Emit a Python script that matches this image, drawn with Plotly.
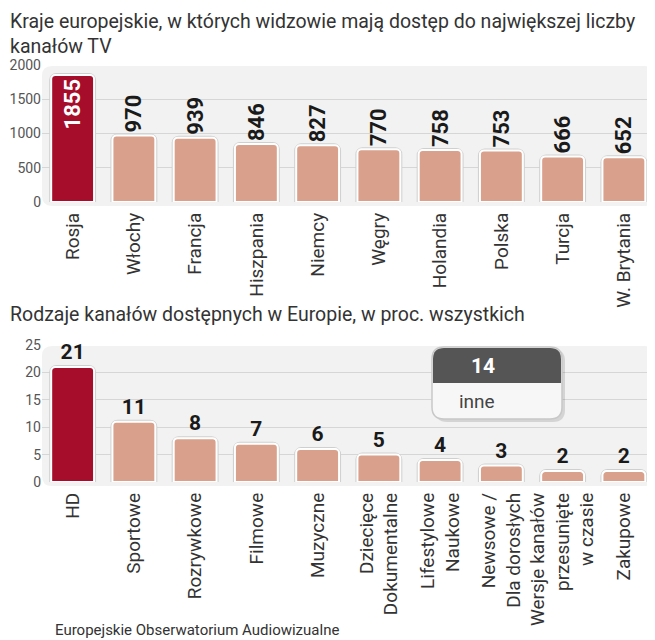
import plotly.graph_objects as go

# dane
kraje = ["Rosja", "Włochy", "Francja", "Hiszpania", "Niemcy", "Węgry",
         "Holandia", "Polska", "Turcja", "W. Brytania"]
liczba_kanalow = [1855, 970, 939, 846, 827, 770, 758, 753, 666, 652]

rodzaje = ["HD", "Sportowe", "Rozrywkowe", "Filmowe", "Muzyczne",
           "Dziecięce<br>Dokumentalne", "Lifestylowe<br>Naukowe",
           "Newsowe /<br>Dla dorosłych",
           "Wersje kanałów<br>przesunięte<br>w czasie", "Zakupowe"]
udzial_proc = [21, 11, 8, 7, 6, 5, 4, 3, 2, 2]
inne_proc = 14

tytul_1 = "Kraje europejskie, w których widzowie mają dostęp do największej liczby<br>kanałów TV"
tytul_2 = "Rodzaje kanałów dostępnych w Europie, w proc. wszystkich"
zrodlo = "Europejskie Obserwatorium Audiowizualne"

# strona ma 8 px marginesu body, więc wykres jest o tyle mniejszy i przesunięty
OFF = 8
W, H = 655 - OFF, 640 - OFF
DARK_RED = "#a50d2b"
SALMON = "#d9a08b"
FONT = "Roboto, Liberation Sans, sans-serif"
NUM_FONT = "Roboto, Liberation Sans, sans-serif"


def fx(x):
    return (x - OFF) / W


def fy(y):
    return 1 - (y - OFF) / H


def px(x, y):
    return "%.5f,%.5f" % (fx(x), fy(y))


def rounded(x0, y0, x1, y1, rt, rb):
    return ("M %s L %s Q %s %s L %s Q %s %s L %s Q %s %s L %s Q %s %s Z" % (
        px(x0 + rt, y0), px(x1 - rt, y0), px(x1, y0), px(x1, y0 + rt),
        px(x1, y1 - rb), px(x1, y1), px(x1 - rb, y1), px(x0 + rb, y1),
        px(x0, y1), px(x0, y1 - rb), px(x0, y0 + rt), px(x0, y0), px(x0 + rt, y0)))


def main():
    colors1 = [DARK_RED] + [SALMON] * (len(kraje) - 1)
    colors2 = [DARK_RED] + [SALMON] * (len(rodzaje) - 1)

    # szara obwódka pod białą ramką słupków
    rim1 = go.Bar(x=kraje, y=liczba_kanalow, xaxis="x", yaxis="y",
                  marker=dict(color="#cfcfcf", line=dict(color="#cfcfcf", width=4),
                              cornerradius=5), hoverinfo="skip")
    rim2 = go.Bar(x=rodzaje, y=udzial_proc, xaxis="x2", yaxis="y2",
                  marker=dict(color="#cfcfcf", line=dict(color="#cfcfcf", width=4),
                              cornerradius=5), hoverinfo="skip")

    trace1 = go.Bar(
        x=kraje, y=liczba_kanalow, xaxis="x", yaxis="y",
        marker=dict(color=colors1, line=dict(color="white", width=2), cornerradius=4),
        text=[str(v) for v in liczba_kanalow],
        textposition=["inside"] + ["outside"] * (len(kraje) - 1),
        insidetextanchor="end",
        textangle=-90,
        textfont=dict(family=NUM_FONT, size=22, weight="bold",
                      color=["white"] + ["#1a1a1a"] * (len(kraje) - 1)),
        constraintext="none", cliponaxis=False, hoverinfo="skip",
    )
    trace2 = go.Bar(
        x=rodzaje, y=udzial_proc, xaxis="x2", yaxis="y2",
        marker=dict(color=colors2, line=dict(color="white", width=2), cornerradius=4),
        text=[str(v) for v in udzial_proc],
        textposition="outside",
        textangle=0,
        textfont=dict(family=NUM_FONT, size=21, weight="bold", color="#1a1a1a"),
        constraintext="none", cliponaxis=False, hoverinfo="skip",
    )

    xdom = [fx(42), fx(654.5)]
    axis_x = dict(domain=xdom, tickangle=-90, showgrid=False, showline=False,
                  zeroline=False, ticks="", ticklabelstandoff=6, automargin=False,
                  tickfont=dict(family=FONT, size=19, color="#333"))
    axis_y = dict(showline=False, zeroline=False, ticks="", gridcolor="#d6d6d6",
                  gridwidth=1, automargin=False,
                  tickfont=dict(family=FONT, size=14, color="#555"))

    shapes = [
        dict(type="path", xref="paper", yref="paper", layer="below",
             path=rounded(42, 66, 654, 206, 10, 10),
             fillcolor="#f2f2f2", line=dict(width=0)),
        dict(type="path", xref="paper", yref="paper", layer="below",
             path=rounded(42, 346, 654, 486, 10, 10),
             fillcolor="#f2f2f2", line=dict(width=0)),
        # ramka "inne"
        dict(type="path", xref="paper", yref="paper", layer="above",
             path=rounded(435, 349, 565, 422, 12, 12),
             fillcolor="rgba(0,0,0,0.12)", line=dict(width=0)),
        dict(type="path", xref="paper", yref="paper", layer="above",
             path=rounded(432, 347, 562, 419, 12, 12),
             fillcolor="#f7f7f7", line=dict(color="#c8c8c8", width=1.5)),
        dict(type="path", xref="paper", yref="paper", layer="above",
             path=rounded(433, 348, 561, 383, 11, 0),
             fillcolor="#555555", line=dict(width=0)),
    ]

    annotations = [
        dict(text=tytul_1, x=0, y=1, xref="paper", yref="paper",
             xanchor="left", yanchor="top", align="left", showarrow=False,
             font=dict(family=FONT, size=19.5, color="#333")),
        dict(text=tytul_2, x=0, y=fy(301), xref="paper", yref="paper",
             xanchor="left", yanchor="top", align="left", showarrow=False,
             font=dict(family=FONT, size=19.5, color="#333")),
        dict(text=str(inne_proc), x=fx(497), y=fy(366), xref="paper", yref="paper",
             showarrow=False, font=dict(family=NUM_FONT, size=21, color="white", weight="bold")),
        dict(text="inne", x=fx(497), y=fy(401), xref="paper", yref="paper",
             showarrow=False, font=dict(family=FONT, size=19, color="#444")),
        dict(text=zrodlo, x=fx(53), y=fy(630), xref="paper", yref="paper",
             xanchor="left", yanchor="middle", showarrow=False,
             font=dict(family=FONT, size=15, color="#333")),
    ]

    layout = go.Layout(
        width=W, height=H,
        margin=dict(l=0, r=0, t=0, b=0, autoexpand=False),
        paper_bgcolor="white", plot_bgcolor="rgba(0,0,0,0)",
        showlegend=False, bargap=0.3, barmode="overlay",
        xaxis=dict(axis_x, anchor="y"),
        yaxis=dict(axis_y, anchor="x", domain=[fy(202), fy(65)],
                   range=[0, 2000], tickvals=[0, 500, 1000, 1500, 2000]),
        xaxis2=dict(axis_x, anchor="y2"),
        yaxis2=dict(axis_y, anchor="x2", domain=[fy(482), fy(345)],
                    range=[0, 25], tickvals=[0, 5, 10, 15, 20, 25]),
        shapes=shapes, annotations=annotations,
    )
    fig = go.Figure(data=[rim1, trace1, rim2, trace2], layout=layout)
    fig.write_html("out.html")


if __name__ == "__main__":
    main()
